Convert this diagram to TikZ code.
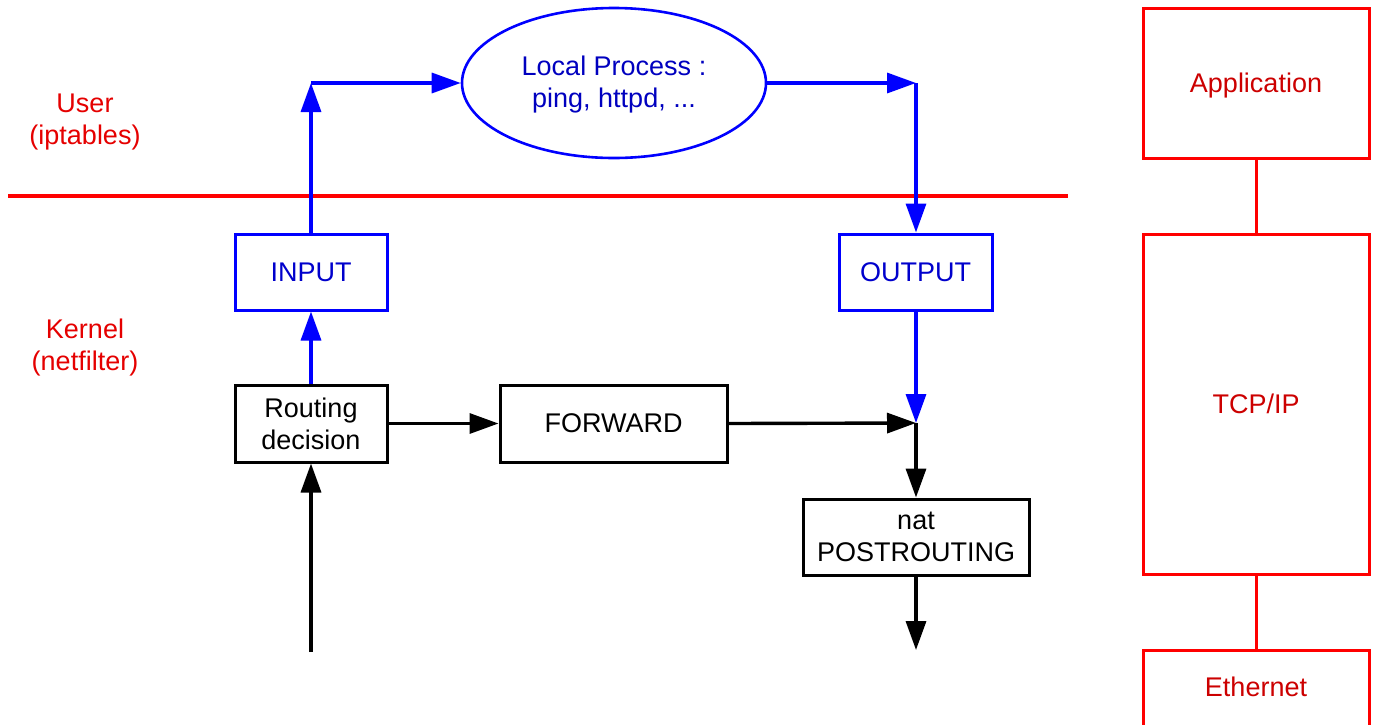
\documentclass[tikz,border=0pt]{standalone}
\usepackage{fontspec}
\setmainfont{Liberation Sans}
\usetikzlibrary{arrows.meta,shapes.geometric}
\begin{document}
\begin{tikzpicture}[x=1pt,y=-1pt,
  font=\fontsize{27}{32}\selectfont,
  tip/.style={-{Triangle[length=29pt,width=20pt]}},
  bbox/.style={draw=black,line width=3pt,inner sep=0pt,align=center,text=black},
  bluebox/.style={draw=blue,line width=3pt,inner sep=0pt,align=center,text=blue!80!black},
  redbox/.style={draw=red,line width=3pt,inner sep=0pt,minimum width=226pt,align=center,text=red!80!black},
  blk/.style={tip,draw=black,line width=3.4pt},
  blu/.style={tip,draw=blue,line width=3.4pt},
  lbl/.style={text=red!90!black,align=center}]
\useasboundingbox (0,0) rectangle (1376,724);
% separator
\draw[red,line width=3.5pt] (8,196) -- (1068,196);
\node[lbl] (user) at (85,122) {User\\(iptables)};
\node[lbl] (kernel) at (85,348) {Kernel\\(netfilter)};
% nodes
\node[draw=blue,line width=2.6pt,ellipse,minimum width=304pt,minimum height=150pt,inner sep=0pt] (lp) at (614,83) {};
\node[align=center,text=blue!75!black,yshift=-2pt] (lpt) at (lp.center) {Local Process :\\ping, httpd, ...};
\node[bluebox,minimum width=152pt,minimum height=76pt] (input) at (311,272) {INPUT};
\node[bluebox,minimum width=153pt,minimum height=76pt] (output) at (915.5,272) {OUTPUT};
\node[bbox,minimum width=152pt,minimum height=77pt] (rd) at (311,423.5) {Routing\\decision};
\node[bbox,minimum width=227pt,minimum height=77pt] (fwd) at (613.5,423.5) {FORWARD};
\node[bbox,minimum width=226pt,minimum height=76pt] (nat) at (916,537) {nat\\POSTROUTING};
\coordinate (c1) at (311,83);
\coordinate (c2) at (916,83);
\coordinate (j) at (916,423);
\coordinate (src) at (311,652);
\coordinate (dst) at (916,650);
% blue connectors
\draw[blu] (rd.north) -- (input.south);
\draw[blu] (input.north) -- (c1);
\draw[blu] (c1) -- (lp.west);
\draw[blu] (lp.east) -- (c2);
\draw[blu] (c2) -- (output.north -| c2);
\draw[blu] (output.south -| j) -- (j);
% black connectors
\draw[blk] (src) -- (rd.south);
\draw[blk] (rd.east) -- (fwd.west);
\draw[blk] (fwd.east) -- (j);
\draw[blk] (j) -- (nat.north);
\draw[blk] (nat.south) -- (dst);
% right stack
\node[redbox,minimum height=150pt] (app) at (1256,83) {};
\node[text=red!80!black,yshift=-3pt] (appl) at (app.center) {Application};
\node[redbox,minimum height=340pt] (tcp) at (1256,404) {TCP/IP};
\node[redbox,minimum height=150pt] (eth) at (1256,725) {};
\node[text=red!80!black] (ethl) at (1256,687) {Ethernet};
\draw[red,line width=3pt] (app.south) -- (tcp.north);
\draw[red,line width=3pt] (tcp.south) -- (eth.north);
\end{tikzpicture}
\end{document}
